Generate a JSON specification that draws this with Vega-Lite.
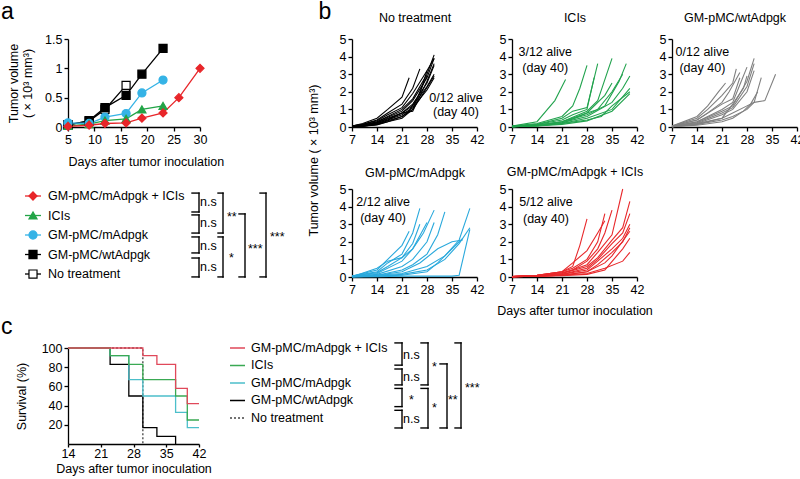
{
"$schema":"https://vega.github.io/schema/vega-lite/v6.json",
"autosize":{"type":"none"},
"padding":{"left":68,"top":39,"right":732,"bottom":440},
"config":{
 "font":"Liberation Sans",
 "view":{"stroke":null},
 "axis":{"grid":false,"domainColor":"#000","tickColor":"#000","labelColor":"#000","titleColor":"#000","labelFontSize":12.5,"titleFontSize":12.5,"titleFontWeight":"normal","tickSize":4,"labelPadding":2,"domainWidth":1.3,"tickWidth":1.3,"labelFlush":false,"labelOverlap":false,"labelFont":"Liberation Sans","titleFont":"Liberation Sans"},
 "title":{"fontSize":12.5,"fontWeight":"normal","color":"#000","font":"Liberation Sans","baseline":"alphabetic"},
 "text":{"font":"Liberation Sans","fontSize":12.5,"color":"#000"}
},
"datasets":{
"a":[
{"g":"No treatment","d":5,"v":0.04},{"g":"No treatment","d":9,"v":0.1},{"g":"No treatment","d":12,"v":0.3},{"g":"No treatment","d":16,"v":0.71},
{"g":"GM-pMC/wtAdpgk","d":5,"v":0.03},{"g":"GM-pMC/wtAdpgk","d":9,"v":0.11},{"g":"GM-pMC/wtAdpgk","d":12,"v":0.33},{"g":"GM-pMC/wtAdpgk","d":16,"v":0.54},{"g":"GM-pMC/wtAdpgk","d":19,"v":0.9},{"g":"GM-pMC/wtAdpgk","d":23,"v":1.34},
{"g":"GM-pMC/mAdpgk","d":5,"v":0.07},{"g":"GM-pMC/mAdpgk","d":9,"v":0.06},{"g":"GM-pMC/mAdpgk","d":12,"v":0.17},{"g":"GM-pMC/mAdpgk","d":16,"v":0.23},{"g":"GM-pMC/mAdpgk","d":19,"v":0.58},{"g":"GM-pMC/mAdpgk","d":23,"v":0.8},
{"g":"ICIs","d":5,"v":0.02},{"g":"ICIs","d":9,"v":0.05},{"g":"ICIs","d":12,"v":0.11},{"g":"ICIs","d":16,"v":0.14},{"g":"ICIs","d":19,"v":0.3},{"g":"ICIs","d":23,"v":0.36},
{"g":"GM-pMC/mAdpgk + ICIs","d":5,"v":0.01},{"g":"GM-pMC/mAdpgk + ICIs","d":9,"v":0.03},{"g":"GM-pMC/mAdpgk + ICIs","d":12,"v":0.06},{"g":"GM-pMC/mAdpgk + ICIs","d":16,"v":0.07},{"g":"GM-pMC/mAdpgk + ICIs","d":19,"v":0.15},{"g":"GM-pMC/mAdpgk + ICIs","d":23,"v":0.24},{"g":"GM-pMC/mAdpgk + ICIs","d":26,"v":0.5},{"g":"GM-pMC/mAdpgk + ICIs","d":30,"v":1.0}
],
"leg":[{"g":"GM-pMC/mAdpgk + ICIs","r":1},{"g":"ICIs","r":2},{"g":"GM-pMC/mAdpgk","r":3},{"g":"GM-pMC/wtAdpgk","r":4},{"g":"No treatment","r":5}],
"abr":[{"xl":187,"xr":194,"yt":0.85,"yb":1.82},{"xl":187,"xr":194,"yt":1.97,"yb":2.9},{"xl":187,"xr":194,"yt":3.1,"yb":3.92},{"xl":187,"xr":194,"yt":4.18,"yb":5.15},{"xl":213,"xr":218,"yt":0.85,"yb":2.9},{"xl":213,"xr":218,"yt":3.1,"yb":5.15},{"xl":234,"xr":240,"yt":1.92,"yb":5.15},{"xl":255,"xr":261,"yt":0.85,"yb":5.15}],
"alab":[{"x":195,"y":1.31,"t":"n.s"},{"x":195,"y":2.38,"t":"n.s"},{"x":195,"y":3.56,"t":"n.s"},{"x":195,"y":4.64,"t":"n.s"},{"x":222,"y":2.07,"t":"**"},{"x":224,"y":4.18,"t":"*"},{"x":243,"y":3.71,"t":"***"},{"x":265,"y":3.1,"t":"***"}],
"cbr":[{"xl":173,"xr":180,"yt":0.71,"yb":1.98},{"xl":173,"xr":180,"yt":2.2,"yb":3.11},{"xl":173,"xr":180,"yt":3.31,"yb":4.35},{"xl":173,"xr":180,"yt":4.56,"yb":5.57},{"xl":199,"xr":206,"yt":0.71,"yb":3.11},{"xl":199,"xr":206,"yt":3.31,"yb":5.57},{"xl":218,"xr":225,"yt":1.91,"yb":5.57},{"xl":233,"xr":239,"yt":0.71,"yb":5.57}],
"clab":[{"x":181,"y":1.4,"t":"n.s"},{"x":181,"y":2.65,"t":"n.s"},{"x":187,"y":3.97,"t":"*"},{"x":181,"y":5.05,"t":"n.s"},{"x":210,"y":2.07,"t":"*"},{"x":210,"y":4.43,"t":"*"},{"x":226,"y":3.97,"t":"**"},{"x":243,"y":3.27,"t":"***"}],
"c":[
{"g":"No treatment","d":14,"s":100},{"g":"No treatment","d":30,"s":0},
{"g":"GM-pMC/wtAdpgk","d":14,"s":100},{"g":"GM-pMC/wtAdpgk","d":23,"s":83},{"g":"GM-pMC/wtAdpgk","d":27,"s":50},{"g":"GM-pMC/wtAdpgk","d":30,"s":17},{"g":"GM-pMC/wtAdpgk","d":33,"s":8},{"g":"GM-pMC/wtAdpgk","d":37,"s":0},
{"g":"GM-pMC/mAdpgk","d":14,"s":100},{"g":"GM-pMC/mAdpgk","d":23,"s":92},{"g":"GM-pMC/mAdpgk","d":27,"s":67},{"g":"GM-pMC/mAdpgk","d":30,"s":50},{"g":"GM-pMC/mAdpgk","d":37,"s":33},{"g":"GM-pMC/mAdpgk","d":39.5,"s":17},{"g":"GM-pMC/mAdpgk","d":42,"s":17},
{"g":"ICIs","d":14,"s":100},{"g":"ICIs","d":23,"s":92},{"g":"ICIs","d":27,"s":83},{"g":"ICIs","d":30,"s":67},{"g":"ICIs","d":37,"s":50},{"g":"ICIs","d":39.5,"s":25},{"g":"ICIs","d":42,"s":25},
{"g":"GM-pMC/mAdpgk + ICIs","d":14,"s":100},{"g":"GM-pMC/mAdpgk + ICIs","d":30,"s":92},{"g":"GM-pMC/mAdpgk + ICIs","d":33,"s":83},{"g":"GM-pMC/mAdpgk + ICIs","d":37,"s":58},{"g":"GM-pMC/mAdpgk + ICIs","d":39.5,"s":42},{"g":"GM-pMC/mAdpgk + ICIs","d":42,"s":42}
],
"notes":[{"p":"nt","d":36.1,"v":1.66,"t":"0/12 alive"},{"p":"nt","d":36.1,"v":0.87,"t":"(day 40)"},{"p":"ic","d":16.3,"v":4.26,"t":"3/12 alive"},{"p":"ic","d":16.3,"v":3.33,"t":"(day 40)"},{"p":"wt","d":15.5,"v":4.26,"t":"0/12 alive"},{"p":"wt","d":15.5,"v":3.35,"t":"(day 40)"},{"p":"ma","d":15.7,"v":4.26,"t":"2/12 alive"},{"p":"ma","d":15.7,"v":3.35,"t":"(day 40)"},{"p":"mi","d":16.5,"v":4.26,"t":"5/12 alive"},{"p":"mi","d":16.5,"v":3.3,"t":"(day 40)"}],
"nt":[
{"m":1,"d":7,"v":0.05},{"m":1,"d":10,"v":0.2},{"m":1,"d":14,"v":0.5},{"m":1,"d":17,"v":1.0},{"m":1,"d":21,"v":1.7},{"m":1,"d":23,"v":2.8},
{"m":2,"d":7,"v":0.05},{"m":2,"d":10,"v":0.15},{"m":2,"d":14,"v":0.4},{"m":2,"d":17,"v":0.8},{"m":2,"d":21,"v":1.3},{"m":2,"d":24,"v":2.2},{"m":2,"d":26,"v":3.3},
{"m":3,"d":7,"v":0.05},{"m":3,"d":10,"v":0.15},{"m":3,"d":14,"v":0.35},{"m":3,"d":17,"v":0.7},{"m":3,"d":21,"v":1.1},{"m":3,"d":24,"v":1.9},{"m":3,"d":28,"v":3.2},
{"m":4,"d":7,"v":0.05},{"m":4,"d":10,"v":0.1},{"m":4,"d":14,"v":0.3},{"m":4,"d":17,"v":0.6},{"m":4,"d":21,"v":1.0},{"m":4,"d":24,"v":1.6},{"m":4,"d":28,"v":3.0},{"m":4,"d":30,"v":4.1},
{"m":5,"d":7,"v":0.03},{"m":5,"d":10,"v":0.1},{"m":5,"d":14,"v":0.3},{"m":5,"d":17,"v":0.55},{"m":5,"d":21,"v":0.9},{"m":5,"d":24,"v":1.5},{"m":5,"d":28,"v":2.8},{"m":5,"d":30,"v":3.9},
{"m":6,"d":7,"v":0.03},{"m":6,"d":10,"v":0.08},{"m":6,"d":14,"v":0.25},{"m":6,"d":17,"v":0.5},{"m":6,"d":21,"v":0.8},{"m":6,"d":24,"v":1.3},{"m":6,"d":28,"v":2.5},{"m":6,"d":30,"v":3.5},
{"m":7,"d":7,"v":0.02},{"m":7,"d":10,"v":0.08},{"m":7,"d":14,"v":0.25},{"m":7,"d":17,"v":0.45},{"m":7,"d":21,"v":0.8},{"m":7,"d":24,"v":1.2},{"m":7,"d":28,"v":2.3},{"m":7,"d":30,"v":3.0},
{"m":8,"d":7,"v":0.02},{"m":8,"d":10,"v":0.06},{"m":8,"d":14,"v":0.2},{"m":8,"d":17,"v":0.4},{"m":8,"d":21,"v":0.7},{"m":8,"d":24,"v":1.1},{"m":8,"d":28,"v":2.1},{"m":8,"d":30,"v":2.8},
{"m":9,"d":7,"v":0.02},{"m":9,"d":10,"v":0.05},{"m":9,"d":14,"v":0.2},{"m":9,"d":17,"v":0.4},{"m":9,"d":21,"v":0.8},{"m":9,"d":24,"v":0.9},{"m":9,"d":28,"v":2.6},{"m":9,"d":30,"v":3.6},
{"m":10,"d":7,"v":0.02},{"m":10,"d":10,"v":0.05},{"m":10,"d":14,"v":0.15},{"m":10,"d":17,"v":0.35},{"m":10,"d":21,"v":0.6},{"m":10,"d":24,"v":1.0},{"m":10,"d":26,"v":2.0},{"m":10,"d":28,"v":2.9},
{"m":11,"d":7,"v":0.02},{"m":11,"d":10,"v":0.05},{"m":11,"d":14,"v":0.15},{"m":11,"d":17,"v":0.3},{"m":11,"d":21,"v":0.6},{"m":11,"d":23,"v":0.9},{"m":11,"d":26,"v":1.9},{"m":11,"d":28,"v":3.2},{"m":11,"d":30,"v":3.9},
{"m":12,"d":7,"v":0.02},{"m":12,"d":10,"v":0.05},{"m":12,"d":14,"v":0.12},{"m":12,"d":17,"v":0.3},{"m":12,"d":21,"v":0.5},{"m":12,"d":24,"v":1.0},{"m":12,"d":26,"v":1.6},{"m":12,"d":30,"v":2.9}
],
"ic":[
{"m":1,"d":7,"v":0.05},{"m":1,"d":14,"v":0.3},{"m":1,"d":19,"v":1.5},{"m":1,"d":22,"v":2.7},
{"m":2,"d":7,"v":0.05},{"m":2,"d":14,"v":0.2},{"m":2,"d":21,"v":0.6},{"m":2,"d":24,"v":1.2},{"m":2,"d":26,"v":2.2},{"m":2,"d":28,"v":3.5},
{"m":3,"d":7,"v":0.03},{"m":3,"d":14,"v":0.15},{"m":3,"d":21,"v":0.5},{"m":3,"d":24,"v":0.9},{"m":3,"d":28,"v":1.1},{"m":3,"d":31,"v":3.6},
{"m":4,"d":7,"v":0.03},{"m":4,"d":14,"v":0.15},{"m":4,"d":21,"v":0.4},{"m":4,"d":24,"v":0.7},{"m":4,"d":28,"v":1.0},{"m":4,"d":30,"v":2.8},
{"m":5,"d":7,"v":0.03},{"m":5,"d":14,"v":0.1},{"m":5,"d":21,"v":0.3},{"m":5,"d":28,"v":0.9},{"m":5,"d":31,"v":1.5},{"m":5,"d":35,"v":3.9},
{"m":6,"d":7,"v":0.02},{"m":6,"d":14,"v":0.1},{"m":6,"d":21,"v":0.3},{"m":6,"d":28,"v":0.8},{"m":6,"d":33,"v":1.8},{"m":6,"d":35,"v":2.5},
{"m":7,"d":7,"v":0.02},{"m":7,"d":14,"v":0.1},{"m":7,"d":21,"v":0.3},{"m":7,"d":28,"v":0.7},{"m":7,"d":33,"v":1.2},{"m":7,"d":37,"v":2.6},{"m":7,"d":39,"v":3.6},
{"m":8,"d":7,"v":0.02},{"m":8,"d":14,"v":0.1},{"m":8,"d":21,"v":0.25},{"m":8,"d":28,"v":0.6},{"m":8,"d":35,"v":1.4},{"m":8,"d":38,"v":2.2},{"m":8,"d":40,"v":2.9},
{"m":9,"d":7,"v":0.02},{"m":9,"d":14,"v":0.08},{"m":9,"d":21,"v":0.2},{"m":9,"d":28,"v":0.5},{"m":9,"d":35,"v":1.0},{"m":9,"d":40,"v":2.2},
{"m":10,"d":7,"v":0.02},{"m":10,"d":14,"v":0.08},{"m":10,"d":21,"v":0.2},{"m":10,"d":28,"v":0.4},{"m":10,"d":32,"v":0.6},{"m":10,"d":35,"v":1.2},{"m":10,"d":40,"v":2.0},
{"m":11,"d":7,"v":0.02},{"m":11,"d":14,"v":0.06},{"m":11,"d":21,"v":0.15},{"m":11,"d":28,"v":0.35},{"m":11,"d":35,"v":0.9},{"m":11,"d":40,"v":1.9},
{"m":12,"d":7,"v":0.02},{"m":12,"d":14,"v":0.06},{"m":12,"d":21,"v":0.2},{"m":12,"d":28,"v":0.8},{"m":12,"d":31,"v":1.0},{"m":12,"d":35,"v":2.0},{"m":12,"d":38,"v":3.0}
],
"wt":[
{"m":1,"d":7,"v":0.05},{"m":1,"d":14,"v":0.6},{"m":1,"d":17,"v":1.2},{"m":1,"d":20,"v":2.0},{"m":1,"d":22,"v":2.5},
{"m":2,"d":7,"v":0.05},{"m":2,"d":14,"v":0.5},{"m":2,"d":17,"v":1.0},{"m":2,"d":21,"v":1.8},{"m":2,"d":24,"v":2.5},{"m":2,"d":25,"v":3.3},
{"m":3,"d":7,"v":0.04},{"m":3,"d":14,"v":0.4},{"m":3,"d":17,"v":0.8},{"m":3,"d":21,"v":1.4},{"m":3,"d":23,"v":2.0},{"m":3,"d":26,"v":3.1},
{"m":4,"d":7,"v":0.04},{"m":4,"d":14,"v":0.4},{"m":4,"d":21,"v":1.3},{"m":4,"d":24,"v":1.6},{"m":4,"d":26,"v":2.8},
{"m":5,"d":7,"v":0.03},{"m":5,"d":14,"v":0.3},{"m":5,"d":21,"v":1.0},{"m":5,"d":24,"v":1.4},{"m":5,"d":26,"v":2.4},{"m":5,"d":28,"v":3.4},
{"m":6,"d":7,"v":0.03},{"m":6,"d":14,"v":0.3},{"m":6,"d":21,"v":0.9},{"m":6,"d":24,"v":1.2},{"m":6,"d":28,"v":2.6},{"m":6,"d":30,"v":3.9},
{"m":7,"d":7,"v":0.03},{"m":7,"d":14,"v":0.25},{"m":7,"d":21,"v":0.8},{"m":7,"d":24,"v":1.1},{"m":7,"d":28,"v":2.3},{"m":7,"d":30,"v":3.6},
{"m":8,"d":7,"v":0.02},{"m":8,"d":14,"v":0.2},{"m":8,"d":21,"v":0.7},{"m":8,"d":24,"v":1.0},{"m":8,"d":28,"v":2.0},{"m":8,"d":30,"v":3.2},
{"m":9,"d":7,"v":0.02},{"m":9,"d":14,"v":0.2},{"m":9,"d":21,"v":0.5},{"m":9,"d":24,"v":0.8},{"m":9,"d":28,"v":1.2},{"m":9,"d":30,"v":1.4},{"m":9,"d":32,"v":2.8},
{"m":10,"d":7,"v":0.02},{"m":10,"d":14,"v":0.15},{"m":10,"d":21,"v":0.4},{"m":10,"d":24,"v":0.6},{"m":10,"d":28,"v":1.0},{"m":10,"d":30,"v":1.4},{"m":10,"d":33,"v":1.5},{"m":10,"d":36,"v":3.0},
{"m":11,"d":7,"v":0.02},{"m":11,"d":14,"v":0.1},{"m":11,"d":21,"v":0.3},{"m":11,"d":24,"v":0.5},{"m":11,"d":27,"v":0.9},{"m":11,"d":29,"v":1.3},{"m":11,"d":31,"v":2.0},
{"m":12,"d":7,"v":0.02},{"m":12,"d":14,"v":0.15},{"m":12,"d":21,"v":0.5},{"m":12,"d":24,"v":1.3},{"m":12,"d":27,"v":2.2},{"m":12,"d":28,"v":2.9}
],
"ma":[
{"m":1,"d":7,"v":0.05},{"m":1,"d":14,"v":0.4},{"m":1,"d":17,"v":1.0},{"m":1,"d":21,"v":1.8},{"m":1,"d":23,"v":2.6},
{"m":2,"d":7,"v":0.05},{"m":2,"d":14,"v":0.3},{"m":2,"d":17,"v":0.8},{"m":2,"d":21,"v":1.3},{"m":2,"d":24,"v":2.5},{"m":2,"d":26,"v":3.9},
{"m":3,"d":7,"v":0.05},{"m":3,"d":14,"v":0.25},{"m":3,"d":17,"v":0.6},{"m":3,"d":21,"v":1.1},{"m":3,"d":24,"v":1.9},{"m":3,"d":26,"v":3.0},
{"m":4,"d":7,"v":0.03},{"m":4,"d":14,"v":0.2},{"m":4,"d":21,"v":0.9},{"m":4,"d":24,"v":1.6},{"m":4,"d":27,"v":2.5},{"m":4,"d":30,"v":3.8},
{"m":5,"d":7,"v":0.03},{"m":5,"d":14,"v":0.15},{"m":5,"d":21,"v":0.6},{"m":5,"d":24,"v":1.0},{"m":5,"d":28,"v":2.0},{"m":5,"d":30,"v":3.1},
{"m":6,"d":7,"v":0.03},{"m":6,"d":14,"v":0.1},{"m":6,"d":21,"v":0.4},{"m":6,"d":24,"v":0.7},{"m":6,"d":28,"v":1.3},{"m":6,"d":31,"v":2.4},{"m":6,"d":33,"v":3.7},
{"m":7,"d":7,"v":0.02},{"m":7,"d":14,"v":0.1},{"m":7,"d":21,"v":0.2},{"m":7,"d":28,"v":0.6},{"m":7,"d":33,"v":1.2},{"m":7,"d":37,"v":2.1},{"m":7,"d":40,"v":3.9},
{"m":8,"d":7,"v":0.02},{"m":8,"d":14,"v":0.05},{"m":8,"d":21,"v":0.15},{"m":8,"d":28,"v":0.4},{"m":8,"d":33,"v":1.0},{"m":8,"d":37,"v":1.9},{"m":8,"d":40,"v":2.8},
{"m":9,"d":7,"v":0.02},{"m":9,"d":14,"v":0.05},{"m":9,"d":21,"v":0.1},{"m":9,"d":28,"v":0.3},{"m":9,"d":31,"v":0.8},{"m":9,"d":35,"v":1.6},{"m":9,"d":38,"v":2.2},
{"m":10,"d":7,"v":0.0},{"m":10,"d":14,"v":0.02},{"m":10,"d":21,"v":0.05},{"m":10,"d":28,"v":0.05},{"m":10,"d":35,"v":0.05},{"m":10,"d":37,"v":0.1},{"m":10,"d":40,"v":2.7},
{"m":11,"d":7,"v":0.02},{"m":11,"d":14,"v":0.5},{"m":11,"d":17,"v":0.9},{"m":11,"d":21,"v":1.1},{"m":11,"d":24,"v":1.6},{"m":11,"d":28,"v":3.1},
{"m":12,"d":7,"v":0.02},{"m":12,"d":14,"v":0.1},{"m":12,"d":21,"v":0.3},{"m":12,"d":26,"v":0.8},{"m":12,"d":31,"v":1.6},{"m":12,"d":35,"v":2.0},{"m":12,"d":38,"v":2.1}
],
"mi":[
{"m":1,"d":7,"v":0.02},{"m":1,"d":14,"v":0.1},{"m":1,"d":21,"v":0.3},{"m":1,"d":24,"v":0.6},{"m":1,"d":26,"v":1.8},{"m":1,"d":28,"v":3.3},
{"m":2,"d":7,"v":0.02},{"m":2,"d":14,"v":0.1},{"m":2,"d":21,"v":0.3},{"m":2,"d":24,"v":0.5},{"m":2,"d":28,"v":1.0},{"m":2,"d":31,"v":2.0},{"m":2,"d":33,"v":3.6},
{"m":3,"d":7,"v":0.02},{"m":3,"d":14,"v":0.08},{"m":3,"d":21,"v":0.25},{"m":3,"d":24,"v":0.4},{"m":3,"d":28,"v":0.9},{"m":3,"d":31,"v":1.6},{"m":3,"d":33,"v":2.5},{"m":3,"d":35,"v":3.8},
{"m":4,"d":7,"v":0.02},{"m":4,"d":14,"v":0.08},{"m":4,"d":21,"v":0.2},{"m":4,"d":28,"v":0.7},{"m":4,"d":31,"v":1.4},{"m":4,"d":35,"v":2.4},{"m":4,"d":38,"v":5.0},
{"m":5,"d":7,"v":0.02},{"m":5,"d":14,"v":0.06},{"m":5,"d":21,"v":0.2},{"m":5,"d":28,"v":0.6},{"m":5,"d":31,"v":1.1},{"m":5,"d":35,"v":2.1},{"m":5,"d":38,"v":2.8},{"m":5,"d":40,"v":4.3},
{"m":6,"d":7,"v":0.02},{"m":6,"d":14,"v":0.06},{"m":6,"d":21,"v":0.15},{"m":6,"d":28,"v":0.5},{"m":6,"d":31,"v":1.0},{"m":6,"d":35,"v":1.9},{"m":6,"d":38,"v":2.5},{"m":6,"d":40,"v":3.6},
{"m":7,"d":7,"v":0.02},{"m":7,"d":14,"v":0.05},{"m":7,"d":21,"v":0.15},{"m":7,"d":28,"v":0.4},{"m":7,"d":31,"v":0.9},{"m":7,"d":35,"v":1.6},{"m":7,"d":38,"v":2.2},{"m":7,"d":40,"v":3.0},
{"m":8,"d":7,"v":0.02},{"m":8,"d":14,"v":0.05},{"m":8,"d":21,"v":0.1},{"m":8,"d":28,"v":0.3},{"m":8,"d":31,"v":0.7},{"m":8,"d":35,"v":1.4},{"m":8,"d":38,"v":2.0},{"m":8,"d":40,"v":2.8},
{"m":9,"d":7,"v":0.02},{"m":9,"d":14,"v":0.04},{"m":9,"d":21,"v":0.1},{"m":9,"d":28,"v":0.3},{"m":9,"d":33,"v":0.8},{"m":9,"d":35,"v":1.2},{"m":9,"d":40,"v":2.6},
{"m":10,"d":7,"v":0.02},{"m":10,"d":14,"v":0.04},{"m":10,"d":21,"v":0.1},{"m":10,"d":28,"v":0.2},{"m":10,"d":33,"v":0.5},{"m":10,"d":38,"v":0.9},{"m":10,"d":40,"v":1.4},
{"m":11,"d":7,"v":0.02},{"m":11,"d":14,"v":0.04},{"m":11,"d":21,"v":0.08},{"m":11,"d":28,"v":0.15},{"m":11,"d":33,"v":0.4},{"m":11,"d":38,"v":1.6},{"m":11,"d":40,"v":2.2},
{"m":12,"d":7,"v":0.02},{"m":12,"d":14,"v":0.1},{"m":12,"d":21,"v":0.3},{"m":12,"d":24,"v":0.8},{"m":12,"d":28,"v":1.5},{"m":12,"d":31,"v":2.5},{"m":12,"d":33,"v":3.2}
]
},
"resolve":{"scale":{"stroke":"independent","fill":"independent","shape":"independent","strokeDash":"independent"}},
"columns":4,
"bounds":"flush",
"align":"each",
"spacing":{"row":62,"column":35},
"concat":[
 {"width":132,"height":88,"data":{"name":"a"},
  "title":{"text":"a","anchor":"start","frame":"group","fontSize":23,"offset":9,"dx":-67},
  "encoding":{
   "x":{"field":"d","type":"quantitative","scale":{"domain":[5,30],"nice":false,"zero":false},"axis":{"values":[5,10,15,20,25,30],"labelOverlap":false,"title":"Days after tumor inoculation","titleAnchor":"start","titlePadding":10}},
   "y":{"field":"v","type":"quantitative","scale":{"domain":[0,1.5],"nice":false},"axis":{"values":[0,0.5,1,1.5],"labelOverlap":false,"format":"~g","title":["Tumor volume","( × 10³ mm³)"],"titlePadding":10}}},
  "layer":[
   {"mark":{"type":"line","strokeWidth":1.3},
    "encoding":{"stroke":{"field":"g","type":"nominal","scale":{"domain":["GM-pMC/mAdpgk + ICIs","ICIs","GM-pMC/mAdpgk","GM-pMC/wtAdpgk","No treatment"],"range":["#e8262a","#22a447","#35b3e6","#000000","#000000"]},"legend":null}}},
   {"mark":{"type":"point","filled":true,"size":65,"strokeWidth":1.2,"opacity":1},
    "encoding":{
     "stroke":{"field":"g","type":"nominal","scale":{"domain":["GM-pMC/mAdpgk + ICIs","ICIs","GM-pMC/mAdpgk","GM-pMC/wtAdpgk","No treatment"],"range":["#e8262a","#22a447","#35b3e6","#000000","#000000"]},"legend":null},
     "fill":{"field":"g","type":"nominal","scale":{"domain":["GM-pMC/mAdpgk + ICIs","ICIs","GM-pMC/mAdpgk","GM-pMC/wtAdpgk","No treatment"],"range":["#e8262a","#22a447","#35b3e6","#000000","#ffffff"]},"legend":null},
     "shape":{"field":"g","type":"nominal","scale":{"domain":["GM-pMC/mAdpgk + ICIs","ICIs","GM-pMC/mAdpgk","GM-pMC/wtAdpgk","No treatment"],"range":["diamond","triangle-up","circle","square","square"]},"legend":null}}}
  ]},
 {"width":125,"height":88,
  "encoding":{"x":{"field":"d","type":"quantitative","scale":{"domain":[7,42],"nice":false},"axis":{"values":[7,14,21,28,35,42],"labelOverlap":false,"title":"b","titleAngle":0,"titleAlign":"left","titleBaseline":"alphabetic","titleFontSize":23,"titleX":-34,"titleY":-109}},
   "y":{"field":"v","type":"quantitative","scale":{"domain":[0,5],"nice":false},"axis":{"values":[0,1,2,3,4,5],"labelOverlap":false,"title":"No treatment","titleAngle":0,"titleAlign":"center","titleBaseline":"alphabetic","titleX":62.5,"titleY":-17.6}}},
  "layer":[
   {"data":{"name":"nt"},"mark":{"type":"line","color":"#000000","strokeWidth":1.1},"encoding":{"detail":{"field":"m","type":"nominal"}}},
   {"data":{"name":"notes"},"transform":[{"filter":"datum.p == 'nt'"}],"mark":{"type":"text"},"encoding":{"text":{"field":"t"}}}
  ]},
 {"width":125,"height":88,
  "encoding":{"x":{"field":"d","type":"quantitative","scale":{"domain":[7,42],"nice":false},"axis":{"values":[7,14,21,28,35,42],"labelOverlap":false,"title":null}},
   "y":{"field":"v","type":"quantitative","scale":{"domain":[0,5],"nice":false},"axis":{"values":[0,1,2,3,4,5],"labelOverlap":false,"title":"ICIs","titleAngle":0,"titleAlign":"center","titleBaseline":"alphabetic","titleX":62.5,"titleY":-17.6}}},
  "layer":[
   {"data":{"name":"ic"},"mark":{"type":"line","color":"#22a34e","strokeWidth":1.1},"encoding":{"detail":{"field":"m","type":"nominal"}}},
   {"data":{"name":"notes"},"transform":[{"filter":"datum.p == 'ic'"}],"mark":{"type":"text"},"encoding":{"text":{"field":"t"}}}
  ]},
 {"width":125,"height":88,
  "encoding":{"x":{"field":"d","type":"quantitative","scale":{"domain":[7,42],"nice":false},"axis":{"values":[7,14,21,28,35,42],"labelOverlap":false,"title":null}},
   "y":{"field":"v","type":"quantitative","scale":{"domain":[0,5],"nice":false},"axis":{"values":[0,1,2,3,4,5],"labelOverlap":false,"title":"GM-pMC/wtAdpgk","titleAngle":0,"titleAlign":"center","titleBaseline":"alphabetic","titleX":62.5,"titleY":-17.6}}},
  "layer":[
   {"data":{"name":"wt"},"mark":{"type":"line","color":"#808080","strokeWidth":1.1},"encoding":{"detail":{"field":"m","type":"nominal"}}},
   {"data":{"name":"notes"},"transform":[{"filter":"datum.p == 'wt'"}],"mark":{"type":"text"},"encoding":{"text":{"field":"t"}}}
  ]},
 {"width":249,"height":97,
  "layer":[
   {"data":{"name":"leg"},"mark":{"type":"rule","strokeWidth":1.3},
    "encoding":{"x":{"datum":20,"type":"quantitative","scale":{"domain":[63,312]},"axis":null},"x2":{"datum":36},
     "y":{"field":"r","type":"quantitative","scale":{"domain":[0.641,5.615],"reverse":true},"axis":null},
     "stroke":{"field":"g","type":"nominal","scale":{"domain":["GM-pMC/mAdpgk + ICIs","ICIs","GM-pMC/mAdpgk","GM-pMC/wtAdpgk","No treatment"],"range":["#e8262a","#22a447","#35b3e6","#000000","#000000"]},"legend":null}}},
   {"data":{"name":"leg"},"mark":{"type":"point","filled":true,"size":65,"strokeWidth":1.2,"opacity":1},
    "encoding":{"x":{"datum":28,"type":"quantitative","scale":{"domain":[63,312]},"axis":null},
     "y":{"field":"r","type":"quantitative","scale":{"domain":[0.641,5.615],"reverse":true},"axis":null},
     "stroke":{"field":"g","type":"nominal","scale":{"domain":["GM-pMC/mAdpgk + ICIs","ICIs","GM-pMC/mAdpgk","GM-pMC/wtAdpgk","No treatment"],"range":["#e8262a","#22a447","#35b3e6","#000000","#000000"]},"legend":null},
     "fill":{"field":"g","type":"nominal","scale":{"domain":["GM-pMC/mAdpgk + ICIs","ICIs","GM-pMC/mAdpgk","GM-pMC/wtAdpgk","No treatment"],"range":["#e8262a","#22a447","#35b3e6","#000000","#ffffff"]},"legend":null},
     "shape":{"field":"g","type":"nominal","scale":{"domain":["GM-pMC/mAdpgk + ICIs","ICIs","GM-pMC/mAdpgk","GM-pMC/wtAdpgk","No treatment"],"range":["diamond","triangle-up","circle","square","square"]},"legend":null}}},
   {"data":{"name":"leg"},"mark":{"type":"text","align":"left","baseline":"middle"},
    "encoding":{"x":{"datum":43,"type":"quantitative","scale":{"domain":[63,312]},"axis":null},"y":{"field":"r","type":"quantitative","scale":{"domain":[0.641,5.615],"reverse":true},"axis":null},"text":{"field":"g"}}},
   {"data":{"name":"abr"},"mark":{"type":"rule","strokeWidth":1.4,"color":"#000","strokeCap":"square"},
    "encoding":{"x":{"field":"xl","type":"quantitative","scale":{"domain":[63,312]},"axis":null},"x2":{"field":"xr"},"y":{"field":"yt","type":"quantitative","scale":{"domain":[0.641,5.615],"reverse":true},"axis":null}}},
   {"data":{"name":"abr"},"mark":{"type":"rule","strokeWidth":1.4,"color":"#000","strokeCap":"square"},
    "encoding":{"x":{"field":"xl","type":"quantitative","scale":{"domain":[63,312]},"axis":null},"x2":{"field":"xr"},"y":{"field":"yb","type":"quantitative","scale":{"domain":[0.641,5.615],"reverse":true},"axis":null}}},
   {"data":{"name":"abr"},"mark":{"type":"rule","strokeWidth":1.4,"color":"#000","strokeCap":"square"},
    "encoding":{"x":{"field":"xr","type":"quantitative","scale":{"domain":[63,312]},"axis":null},"y":{"field":"yt","type":"quantitative","scale":{"domain":[0.641,5.615],"reverse":true},"axis":null},"y2":{"field":"yb"}}},
   {"data":{"name":"alab"},"mark":{"type":"text","align":"left","baseline":"middle"},
    "encoding":{"x":{"field":"x","type":"quantitative","scale":{"domain":[63,312]},"axis":null},"y":{"field":"y","type":"quantitative","scale":{"domain":[0.641,5.615],"reverse":true},"axis":null},"text":{"field":"t"}}}
  ]},
 {"width":125,"height":88,
  "encoding":{"x":{"field":"d","type":"quantitative","scale":{"domain":[7,42],"nice":false},"axis":{"values":[7,14,21,28,35,42],"labelOverlap":false,"title":"GM-pMC/mAdpgk","titleAngle":0,"titleAlign":"center","titleBaseline":"alphabetic","titleX":62.5,"titleY":-101}},
   "y":{"field":"v","type":"quantitative","scale":{"domain":[0,5],"nice":false},"axis":{"values":[0,1,2,3,4,5],"labelOverlap":false,"title":"Tumor volume ( × 10³ mm³)","titleAngle":270,"titleAlign":"center","titleBaseline":"middle","titleX":-39,"titleY":-29}}},
  "layer":[
   {"data":{"name":"ma"},"mark":{"type":"line","color":"#2aa9dc","strokeWidth":1.1},"encoding":{"detail":{"field":"m","type":"nominal"}}},
   {"data":{"name":"notes"},"transform":[{"filter":"datum.p == 'ma'"}],"mark":{"type":"text"},"encoding":{"text":{"field":"t"}}}
  ]},
 {"width":125,"height":88,
  "encoding":{"x":{"field":"d","type":"quantitative","scale":{"domain":[7,42],"nice":false},"axis":{"values":[7,14,21,28,35,42],"labelOverlap":false,"title":"Days after tumor inoculation","titlePadding":9}},
   "y":{"field":"v","type":"quantitative","scale":{"domain":[0,5],"nice":false},"axis":{"values":[0,1,2,3,4,5],"labelOverlap":false,"title":"GM-pMC/mAdpgk + ICIs","titleAngle":0,"titleAlign":"center","titleBaseline":"alphabetic","titleX":62.5,"titleY":-13.3}}},
  "layer":[
   {"data":{"name":"mi"},"mark":{"type":"line","color":"#e8282b","strokeWidth":1.1},"encoding":{"detail":{"field":"m","type":"nominal"}}},
   {"data":{"name":"notes"},"transform":[{"filter":"datum.p == 'mi'"}],"mark":{"type":"text"},"encoding":{"text":{"field":"t"}}}
  ]},
 {"width":1,"height":1,"data":{"values":[]},"mark":"point"},
 {"width":131,"height":96,"data":{"name":"c"},
  "title":{"text":"c","anchor":"start","frame":"group","fontSize":23,"offset":3,"dx":-67},
  "mark":{"type":"line","interpolate":"step-after","strokeWidth":1.3},
  "encoding":{
   "x":{"field":"d","type":"quantitative","scale":{"domain":[14,42],"nice":false,"zero":false},"axis":{"values":[14,21,28,35,42],"labelOverlap":false,"tickSize":3,"labelPadding":0,"title":"Days after tumor inoculation","titlePadding":3}},
   "y":{"field":"s","type":"quantitative","scale":{"domain":[0,100],"nice":false},"axis":{"values":[20,40,60,80,100],"labelOverlap":false,"title":"Survival (%)","titlePadding":13}},
   "stroke":{"field":"g","type":"nominal","scale":{"domain":["GM-pMC/mAdpgk + ICIs","ICIs","GM-pMC/mAdpgk","GM-pMC/wtAdpgk","No treatment"],"range":["#e0485a","#3aa953","#4cbfca","#000000","#444444"]},"legend":null},
   "strokeDash":{"field":"g","type":"nominal","scale":{"domain":["GM-pMC/mAdpgk + ICIs","ICIs","GM-pMC/mAdpgk","GM-pMC/wtAdpgk","No treatment"],"range":[[1,0],[1,0],[1,0],[1,0],[2,2]]},"legend":null}}},
 {"width":125,"height":96,
  "layer":[
   {"data":{"name":"leg"},"mark":{"type":"rule","strokeWidth":1.3},
    "encoding":{"x":{"datum":8,"type":"quantitative","scale":{"domain":[130,255]},"axis":null},"x2":{"datum":23},
     "y":{"field":"r","type":"quantitative","scale":{"domain":[1,6.486],"reverse":true},"axis":null},
     "stroke":{"field":"g","type":"nominal","scale":{"domain":["GM-pMC/mAdpgk + ICIs","ICIs","GM-pMC/mAdpgk","GM-pMC/wtAdpgk","No treatment"],"range":["#e0485a","#3aa953","#4cbfca","#000000","#444444"]},"legend":null},
     "strokeDash":{"field":"g","type":"nominal","scale":{"domain":["GM-pMC/mAdpgk + ICIs","ICIs","GM-pMC/mAdpgk","GM-pMC/wtAdpgk","No treatment"],"range":[[1,0],[1,0],[1,0],[1,0],[2,2]]},"legend":null}}},
   {"data":{"name":"leg"},"mark":{"type":"text","align":"left","baseline":"middle"},
    "encoding":{"x":{"datum":29,"type":"quantitative","scale":{"domain":[130,255]},"axis":null},"y":{"field":"r","type":"quantitative","scale":{"domain":[1,6.486],"reverse":true},"axis":null},"text":{"field":"g"}}},
   {"data":{"name":"cbr"},"mark":{"type":"rule","strokeWidth":1.4,"color":"#000","strokeCap":"square"},
    "encoding":{"x":{"field":"xl","type":"quantitative","scale":{"domain":[130,255]},"axis":null},"x2":{"field":"xr"},"y":{"field":"yt","type":"quantitative","scale":{"domain":[1,6.486],"reverse":true},"axis":null}}},
   {"data":{"name":"cbr"},"mark":{"type":"rule","strokeWidth":1.4,"color":"#000","strokeCap":"square"},
    "encoding":{"x":{"field":"xl","type":"quantitative","scale":{"domain":[130,255]},"axis":null},"x2":{"field":"xr"},"y":{"field":"yb","type":"quantitative","scale":{"domain":[1,6.486],"reverse":true},"axis":null}}},
   {"data":{"name":"cbr"},"mark":{"type":"rule","strokeWidth":1.4,"color":"#000","strokeCap":"square"},
    "encoding":{"x":{"field":"xr","type":"quantitative","scale":{"domain":[130,255]},"axis":null},"y":{"field":"yt","type":"quantitative","scale":{"domain":[1,6.486],"reverse":true},"axis":null},"y2":{"field":"yb"}}},
   {"data":{"name":"clab"},"mark":{"type":"text","align":"left","baseline":"middle"},
    "encoding":{"x":{"field":"x","type":"quantitative","scale":{"domain":[130,255]},"axis":null},"y":{"field":"y","type":"quantitative","scale":{"domain":[1,6.486],"reverse":true},"axis":null},"text":{"field":"t"}}}
  ]}
]
}
